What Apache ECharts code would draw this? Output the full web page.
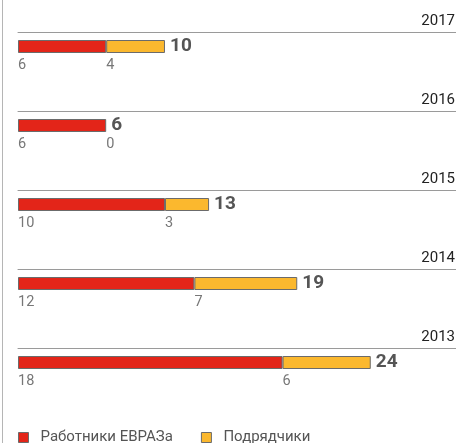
<!DOCTYPE html>
<html>
<head>
<meta charset="utf-8">
<script src="https://cdn.jsdelivr.net/npm/echarts@6/dist/echarts.min.js"></script>
<style>
html, body { margin: 0; padding: 0; background: #fff; }
#wrap { position: relative; width: 456px; height: 443px; }
#wrap::before { content: ""; position: absolute; left: 2px; top: 0; width: 1px; height: 443px; background: #b5b5b5; }
#chart { width: 456px; height: 443px; }
</style>
</head>
<body>
<div id="wrap"><div id="chart"></div></div>
<script>
// годы сверху вниз
const years = ['2017', '2016', '2015', '2014', '2013'];
// Работники ЕВРАЗа
const employees = [6, 6, 10, 12, 18];
// Подрядчики
const contractors = [4, 0, 3, 7, 6];
const seriesNames = ['Работники ЕВРАЗа', 'Подрядчики'];

const totals = employees.map((v, i) => v + contractors[i]);

const fontFamily = 'Roboto, "Liberation Sans", sans-serif';
const grids = [], xAxes = [], yAxes = [], series = [];

years.forEach((year, i) => {
    const lineY = 32 + 79 * i;
    grids.push({ left: 18, right: 0, top: lineY, height: 29 });
    xAxes.push({
        gridIndex: i,
        type: 'value',
        min: 0,
        max: 29.8,
        position: 'top',
        name: year,
        nameLocation: 'end',
        nameGap: 0,
        nameTextStyle: {
            align: 'right',
            verticalAlign: 'bottom',
            padding: [0, 1, 3, 0],
            fontSize: 15,
            color: '#222',
            fontFamily: fontFamily
        },
        axisLine: { show: true, lineStyle: { color: '#9a9a9a', width: 1 } },
        axisTick: { show: false },
        axisLabel: { show: false },
        splitLine: { show: false }
    });
    yAxes.push({ gridIndex: i, type: 'category', data: [year], show: false });

    const partLabel = {
        show: true,
        position: [0, 18],
        fontSize: 14.5,
        color: '#777',
        fontFamily: fontFamily
    };
    series.push({
        name: seriesNames[0],
        type: 'bar',
        xAxisIndex: i,
        yAxisIndex: i,
        stack: 'y' + i,
        barWidth: 13,
        data: [employees[i]],
        itemStyle: { color: '#e32519', borderColor: '#6b6b6b', borderWidth: 1 },
        label: partLabel,
        silent: true
    });
    series.push({
        name: seriesNames[1],
        type: 'bar',
        xAxisIndex: i,
        yAxisIndex: i,
        stack: 'y' + i,
        barWidth: 13,
        data: [contractors[i]],
        itemStyle: { color: '#fbb82e', borderColor: '#6b6b6b', borderWidth: contractors[i] ? 1 : 0 },
        label: partLabel,
        silent: true
    });
    series.push({
        name: 'total',
        type: 'bar',
        xAxisIndex: i,
        yAxisIndex: i,
        barWidth: 13,
        barGap: '-100%',
        data: [totals[i]],
        itemStyle: { color: 'rgba(0,0,0,0)' },
        label: {
            show: true,
            position: 'right',
            distance: 5,
            fontSize: 19,
            fontWeight: 'bold',
            color: '#555',
            fontFamily: fontFamily
        },
        z: 1,
        silent: true
    });
});

var myChart = echarts.init(document.getElementById('chart'));
myChart.setOption({
    animation: false,
    grid: grids,
    xAxis: xAxes,
    yAxis: yAxes,
    legend: {
        data: seriesNames,
        left: 13,
        top: 425,
        icon: 'rect',
        itemWidth: 10,
        itemHeight: 10,
        itemGap: 28,
        itemStyle: { borderColor: '#6b6b6b', borderWidth: 1 },
        textStyle: { fontSize: 15, color: '#555', fontFamily: fontFamily, padding: [0, 0, 0, 7] }
    },
    series: series
});
</script>
</body>
</html>
